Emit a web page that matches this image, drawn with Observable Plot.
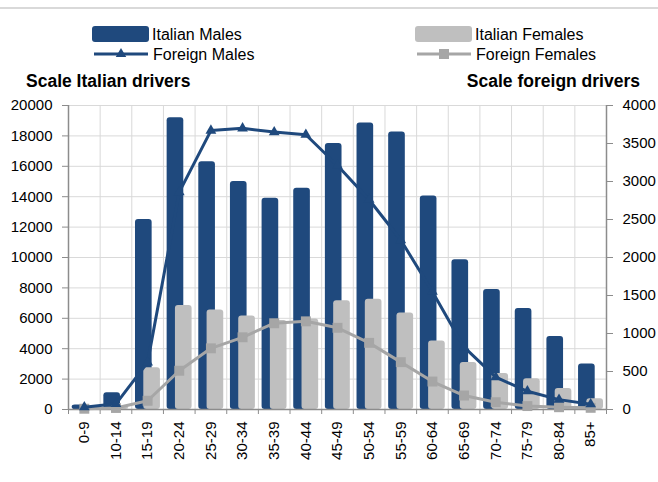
<!DOCTYPE html>
<html>
<head>
<meta charset="utf-8">
<script src="https://cdn.jsdelivr.net/npm/d3@7"></script>
<script src="https://cdn.jsdelivr.net/npm/@observablehq/plot@0.6"></script>
<style>
  html, body { margin: 0; padding: 0; background: #fff; }
  #wrap { position: relative; width: 658px; height: 482px; overflow: hidden; font-family: "Liberation Sans", Arial, sans-serif; }
  #head { position: absolute; left: 0; top: 0; }
  #chart { position: absolute; left: 0; top: 95px; }
</style>
</head>
<body>
<div id="wrap">
  <svg id="head" width="658" height="95"></svg>
  <div id="chart"></div>
</div>
<script>
// ---- data ----
const categories = ["0-9","10-14","15-19","20-24","25-29","30-34","35-39","40-44","45-49","50-54","55-59","60-64","65-69","70-74","75-79","80-84","85+"];
const italianMales   = [300, 1100, 12500, 19200, 16300, 15000, 13900, 14550, 17500, 18850, 18250, 14050, 9850, 7900, 6650, 4800, 3000];
const italianFemales = [80, 150, 2750, 6850, 6550, 6150, 5850, 5950, 7150, 7250, 6350, 4500, 3100, 2370, 2020, 1380, 700];
const foreignMales   = [30, 75, 620, 2860, 3670, 3700, 3650, 3615, 3210, 2760, 2230, 1550, 820, 425, 240, 130, 70];
const foreignFemales = [10, 20, 115, 510, 805, 950, 1135, 1160, 1075, 877, 623, 368, 184, 96, 45, 30, 22];
const seriesNames = ["Italian Males", "Foreign Males", "Italian Females", "Foreign Females"];
const leftTicks  = d3.range(0, 20001, 2000);
const rightTicks = d3.range(0, 4001, 500);
const axisTitles = ["Scale Italian drivers", "Scale foreign drivers"];

const DARK = "#1F497D", LIGHT = "#BFBFBF", MID = "#A6A6A6", GRID = "#d9d9d9", AXIS = "#8c8c8c";
const ratio = 20000 / 4000; // right scale -> left scale

const rows = arr => arr.map((v, i) => ({i, cat: categories[i], v}));

// ---- header: legend + scale titles ----
const head = d3.select("#head");
head.append("rect").attr("x", 0).attr("y", 7).attr("width", 658).attr("height", 2).attr("fill", GRID);
function legendBar(x, color, label) {
  head.append("rect").attr("x", x).attr("y", 26).attr("width", 57).attr("height", 16).attr("rx", 3).attr("fill", color);
  head.append("text").attr("x", x + 60).attr("y", 40).attr("font-size", 16).text(label);
}
function legendLine(x, color, sym, label) {
  head.append("line").attr("x1", x).attr("x2", x + 54).attr("y1", 54).attr("y2", 54).attr("stroke", color).attr("stroke-width", 3);
  head.append("path").attr("transform", `translate(${x + 27},54)`)
    .attr("d", d3.symbol(sym === "triangle" ? d3.symbolTriangle : d3.symbolSquare, sym === "triangle" ? 48 : 100)())
    .attr("fill", color);
  head.append("text").attr("x", x + 59).attr("y", 60).attr("font-size", 16).text(label);
}
legendBar(92, DARK, seriesNames[0]);
legendLine(94, DARK, "triangle", seriesNames[1]);
legendBar(415, LIGHT, seriesNames[2]);
legendLine(417, MID, "square", seriesNames[3]);
head.append("text").attr("x", 26).attr("y", 87).attr("font-size", 17.5).attr("font-weight", "bold").text(axisTitles[0]);
head.append("text").attr("x", 640).attr("y", 87).attr("font-size", 17.5).attr("font-weight", "bold").attr("text-anchor", "end").text(axisTitles[1]);
head.selectAll("text").attr("font-family", "Liberation Sans, Arial, sans-serif").attr("fill", "#000");

// ---- chart ----
const chart = Plot.plot({
  width: 658,
  height: 387,
  marginTop: 10,
  marginBottom: 73,
  marginLeft: 68,
  marginRight: 52,
  style: {fontFamily: "'Liberation Sans', Arial, sans-serif", fontSize: "15px", color: "#000", background: "#fff", overflow: "visible"},
  x: {domain: [0, categories.length]},
  y: {domain: [0, 20000]},
  marks: [
    Plot.gridY(leftTicks, {stroke: GRID, strokeOpacity: 1, strokeWidth: 1}),
    Plot.gridX(d3.range(categories.length + 1), {stroke: GRID, strokeOpacity: 1, strokeWidth: 1}),
    Plot.rectY(rows(italianMales), {x1: "i", x2: d => d.i + 1, y: "v", fill: DARK, insetLeft: 3.7, insetRight: 11.3, rx: 3}),
    Plot.rectY(rows(italianFemales), {x1: "i", x2: d => d.i + 1, y: "v", fill: LIGHT, insetLeft: 12, insetRight: 3, rx: 3}),
    Plot.ruleX([0], {stroke: AXIS, strokeWidth: 1.5}),
    Plot.ruleX([categories.length], {stroke: AXIS, strokeWidth: 1.5}),
    Plot.ruleY([0], {stroke: AXIS, strokeWidth: 1.5}),
    Plot.axisY(leftTicks, {anchor: "left", tickFormat: d => String(d), tickSize: 6, tickPadding: 10, stroke: AXIS, fill: "#000", label: null}),
    Plot.axisY(rightTicks, {anchor: "right", y: d => d * ratio, tickFormat: d => String(d), tickSize: 6, tickPadding: 10, stroke: AXIS, fill: "#000", label: null}),
    Plot.axisX(d3.range(categories.length + 1), {tickFormat: () => "", tickSize: 5, stroke: AXIS, label: null}),
    Plot.axisX(d3.range(categories.length).map(i => i + 0.5), {tickFormat: d => categories[Math.floor(d)], tickRotate: -90, tickSize: 0, tickPadding: 12, fill: "#000", label: null}),
    Plot.lineY(rows(foreignFemales), {x: d => d.i + 0.5, y: d => d.v * ratio, stroke: MID, strokeWidth: 3}),
    Plot.dot(rows(foreignFemales), {x: d => d.i + 0.5, y: d => d.v * ratio, symbol: "square", r: 5.6, fill: MID}),
    Plot.lineY(rows(foreignMales), {x: d => d.i + 0.5, y: d => d.v * ratio, stroke: DARK, strokeWidth: 3}),
    Plot.dot(rows(foreignMales), {x: d => d.i + 0.5, y: d => d.v * ratio, symbol: "triangle", r: 4, fill: DARK})
  ]
});
document.getElementById("chart").appendChild(chart);
</script>
</body>
</html>
